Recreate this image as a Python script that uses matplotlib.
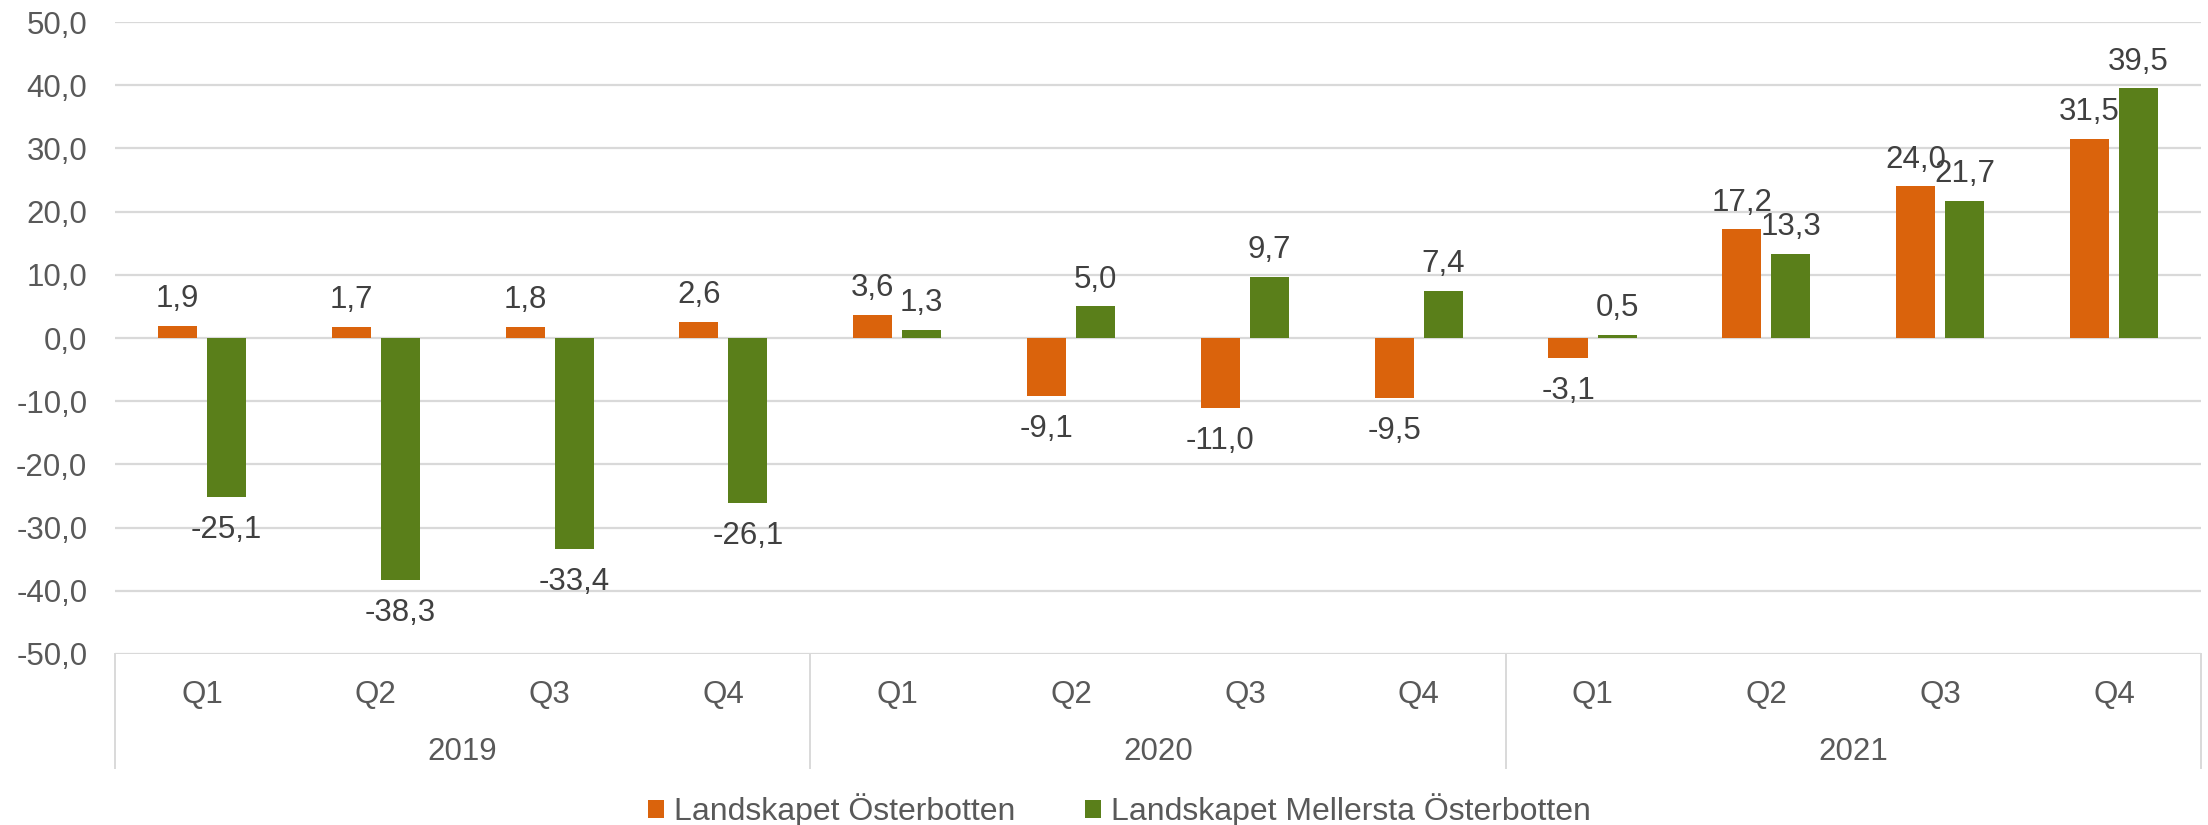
#!/usr/bin/env python3
"""
Quarterly change, Landskapet Österbotten vs Landskapet Mellersta Österbotten
"""

import matplotlib
matplotlib.use('Agg')
import matplotlib.pyplot as plt
import matplotlib.transforms as mtransforms

plt.rcParams['font.family'] = ['Liberation Sans', 'DejaVu Sans']

years = ['2019', '2020', '2021']
quarters = ['Q1', 'Q2', 'Q3', 'Q4']
series_names = ['Landskapet Österbotten', 'Landskapet Mellersta Österbotten']
osterbotten = [1.9, 1.7, 1.8, 2.6, 3.6, -9.1, -11.0, -9.5, -3.1, 17.2, 24.0, 31.5]
mellersta = [-25.1, -38.3, -33.4, -26.1, 1.3, 5.0, 9.7, 7.4, 0.5, 13.3, 21.7, 39.5]
y_ticks = [-50, -40, -30, -20, -10, 0, 10, 20, 30, 40, 50]

ORANGE = '#DA630C'
GREEN = '#5A7F1A'
TICK_COLOR = '#595959'
LABEL_COLOR = '#404040'
GRID_COLOR = '#D9D9D9'
FS = 22.5


def fmt(v):
    return f'{v:.1f}'.replace('.', ',')


def main():
    fig = plt.figure(figsize=(22.08, 8.25), dpi=100)
    ax = fig.add_axes([0.0521, 0.2073, 0.9447, 0.766])

    n = len(osterbotten)
    x = list(range(n))
    width = 0.225
    off = 0.141

    b1 = ax.bar([i - off for i in x], osterbotten, width, color=ORANGE,
                label=series_names[0], zorder=3)
    b2 = ax.bar([i + off for i in x], mellersta, width, color=GREEN,
                label=series_names[1], zorder=3)

    # data labels (overlaps as in the original Excel chart)
    for bars, vals in ((b1, osterbotten), (b2, mellersta)):
        for rect, v in zip(bars, vals):
            cx = rect.get_x() + rect.get_width() / 2
            if v >= 0:
                ax.annotate(fmt(v), (cx, v), xytext=(0, 8.5), textcoords='offset points',
                            ha='center', va='bottom', fontsize=FS, color=LABEL_COLOR)
            else:
                ax.annotate(fmt(v), (cx, v), xytext=(0, -13), textcoords='offset points',
                            ha='center', va='top', fontsize=FS, color=LABEL_COLOR)

    ax.set_xlim(-0.5, n - 0.5)
    ax.set_ylim(-50, 50)
    ax.set_yticks(y_ticks)
    ax.set_yticklabels([fmt(t) for t in y_ticks])
    ax.tick_params(axis='y', length=0, pad=20, labelsize=FS, labelcolor=TICK_COLOR)
    ax.set_xticks([])
    for s in ax.spines.values():
        s.set_visible(False)
    ax.yaxis.grid(True, color=GRID_COLOR, linewidth=1.6, zorder=0)
    ax.set_axisbelow(True)

    # two-level category axis
    trans = mtransforms.blended_transform_factory(ax.transData, ax.transAxes)
    for i in x:
        ax.text(i, -0.065, quarters[i % 4], transform=trans, ha='center', va='center',
                fontsize=FS, color=TICK_COLOR)
    for k, yr in enumerate(years):
        ax.text(4 * k + 1.5, -0.155, yr, transform=trans, ha='center', va='center',
                fontsize=FS, color=TICK_COLOR)
    for k in range(len(years) + 1):
        ax.plot([4 * k - 0.5, 4 * k - 0.5], [0, -0.18], transform=trans,
                color=GRID_COLOR, linewidth=1.4, clip_on=False)

    fig.legend(handles=[b1, b2], loc='center', bbox_to_anchor=(0.507, 0.018),
               ncol=2, frameon=False, fontsize=23, labelcolor=TICK_COLOR,
               handlelength=0.5, handleheight=0.5, handletextpad=0.3,
               columnspacing=2.2, borderpad=0)

    fig.savefig('out.png', dpi=100)


if __name__ == '__main__':
    main()
